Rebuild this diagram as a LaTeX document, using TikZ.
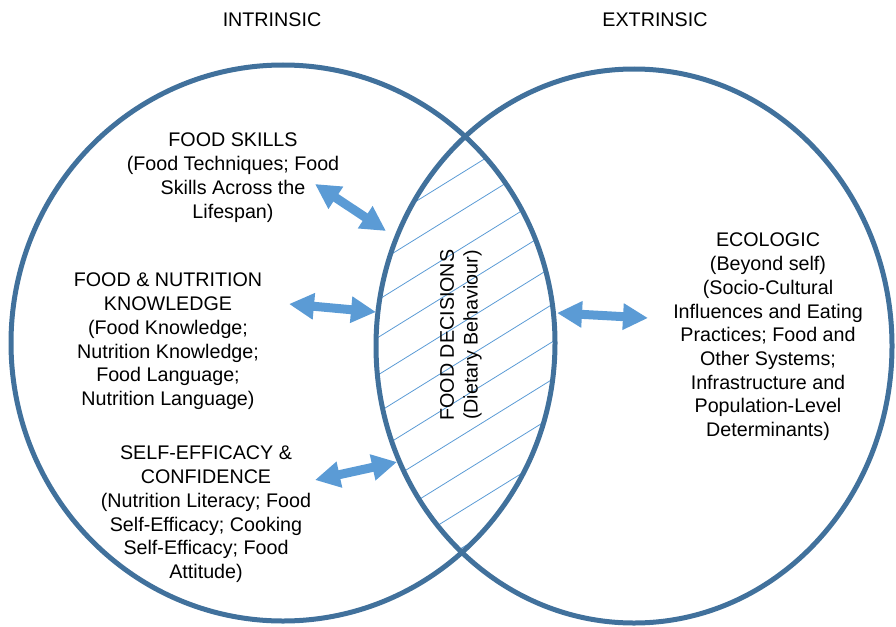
\documentclass[tikz,border=0pt]{standalone}
\usepackage{fontspec}
\setmainfont{Liberation Sans}
\usetikzlibrary{arrows.meta}
\definecolor{ringblue}{HTML}{41719C}
\definecolor{arrowblue}{HTML}{5B9BD5}
\begin{document}
\begin{tikzpicture}[x=1pt,y=-1pt,
  ring/.style={draw=ringblue, line width=5pt},
  hatchline/.style={draw=arrowblue, line width=0.8pt},
  dblarrow/.style={draw=arrowblue, line width=9pt,
    {Triangle[length=25pt,width=25pt]}-{Triangle[length=25pt,width=25pt]}},
  blocktext/.style={font=\fontsize{19.7}{23.7}\selectfont, align=center, inner sep=0pt, anchor=north},
  heading/.style={font=\fontsize{19.7}{23.7}\selectfont, inner sep=0pt}]
\useasboundingbox (0,0) rectangle (896,626);
% hatching of the overlap
\begin{scope}
  \clip (283,343) ellipse [x radius=272pt, y radius=278pt];
  \clip (634,346) ellipse [x radius=258pt, y radius=277pt];
  \foreach \k in {-6,...,10} {
    \draw[hatchline] (340, 286+37.5*\k) -- (600, 286+37.5*\k-161.2);
  }
\end{scope}
% circles
\draw[ring] (283,343) ellipse [x radius=272pt, y radius=278pt];
\draw[ring] (634,346) ellipse [x radius=258pt, y radius=277pt];
% texts
\node[heading] (intr) at (272,20) {INTRINSIC};
\node[heading] (extr) at (655,20) {EXTRINSIC};
\node[blocktext] (skills) at (233,133) {FOOD SKILLS\\(Food Techniques; Food\\Skills Across the\\Lifespan)};
\node[blocktext] (knowl) at (168,273) {FOOD \& NUTRITION\\KNOWLEDGE\\(Food Knowledge;\\Nutrition Knowledge;\\Food Language;\\Nutrition Language)};
\node[blocktext] (self) at (206,446) {SELF-EFFICACY \&\\CONFIDENCE\\(Nutrition Literacy; Food\\Self-Efficacy; Cooking\\Self-Efficacy; Food\\Attitude)};
\node[blocktext] (eco) at (768,233) {ECOLOGIC\\(Beyond self)\\(Socio-Cultural\\Influences and Eating\\Practices; Food and\\Other Systems;\\Infrastructure and\\Population-Level\\Determinants)};
\node[blocktext, anchor=center, rotate=90] (dec) at (461,335) {FOOD DECISIONS\\(Dietary Behaviour)};
% arrows
\coordinate (skA) at (315,184);
\coordinate (skB) at (386,231);
\coordinate (knA) at (289,304);
\coordinate (knB) at (376,312);
\coordinate (seA) at (315,480);
\coordinate (seB) at (397,462);
\coordinate (ecA) at (557,313);
\coordinate (ecB) at (648,318);
\draw[dblarrow] (skA) -- (skB);
\draw[dblarrow] (knA) -- (knB);
\draw[dblarrow] (seA) -- (seB);
\draw[dblarrow] (ecA) -- (ecB);
\end{tikzpicture}
\end{document}
